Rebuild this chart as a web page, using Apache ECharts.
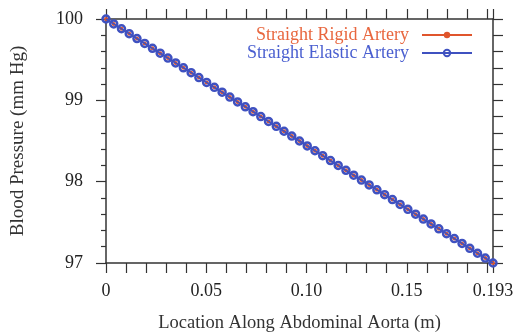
<!DOCTYPE html>
<html>
<head>
<meta charset="utf-8">
<script src="https://cdn.jsdelivr.net/npm/echarts@6/dist/echarts.min.js"></script>
<style>
  html, body { margin: 0; padding: 0; background: #fff; }
  #chart { width: 520px; height: 335px; }
</style>
</head>
<body>
<div id="chart"></div>
<script>
// Sample positions along the abdominal aorta (m)
const locations = [
  0.00000, 0.00386, 0.00772, 0.01158, 0.01544, 0.01930, 0.02316, 0.02702, 0.03088, 0.03474,
  0.03860, 0.04246, 0.04632, 0.05018, 0.05404, 0.05790, 0.06176, 0.06562, 0.06948, 0.07334,
  0.07720, 0.08106, 0.08492, 0.08878, 0.09264, 0.09650, 0.10036, 0.10422, 0.10808, 0.11194,
  0.11580, 0.11966, 0.12352, 0.12738, 0.13124, 0.13510, 0.13896, 0.14282, 0.14668, 0.15054,
  0.15440, 0.15826, 0.16212, 0.16598, 0.16984, 0.17370, 0.17756, 0.18142, 0.18528, 0.18914,
  0.19300
];

// Blood pressure along the rigid artery (mm Hg)
const rigidPressure = [
  100.00, 99.94, 99.88, 99.82, 99.76, 99.70, 99.64, 99.58, 99.52, 99.46,
  99.40, 99.34, 99.28, 99.22, 99.16, 99.10, 99.04, 98.98, 98.92, 98.86,
  98.80, 98.74, 98.68, 98.62, 98.56, 98.50, 98.44, 98.38, 98.32, 98.26,
  98.20, 98.14, 98.08, 98.02, 97.96, 97.90, 97.84, 97.78, 97.72, 97.66,
  97.60, 97.54, 97.48, 97.42, 97.36, 97.30, 97.24, 97.18, 97.12, 97.06,
  97.00
];

// Blood pressure along the elastic artery (mm Hg)
const elasticPressure = [
  100.00, 99.94, 99.88, 99.82, 99.76, 99.70, 99.64, 99.58, 99.52, 99.46,
  99.40, 99.34, 99.28, 99.22, 99.16, 99.10, 99.04, 98.98, 98.92, 98.86,
  98.80, 98.74, 98.68, 98.62, 98.56, 98.50, 98.44, 98.38, 98.32, 98.26,
  98.20, 98.14, 98.08, 98.02, 97.96, 97.90, 97.84, 97.78, 97.72, 97.66,
  97.60, 97.54, 97.48, 97.42, 97.36, 97.30, 97.24, 97.18, 97.12, 97.06,
  97.00
];

// Labelled x ticks
const xTickLabels = ['0', '0.05', '0.10', '0.15', '0.193'];
const seriesNames = ['Straight Rigid Artery', 'Straight Elastic Artery'];

const FONT = '"Liberation Serif", "DejaVu Serif", serif';
const INK = '#333';
const ORANGE = '#e0552c';
const BLUE = '#3f51c0';

const pairs = (xs, ys) => xs.map((x, i) => [x, ys[i]]);

function xLabel(v) {
  for (const t of xTickLabels) {
    if (Math.abs(parseFloat(t) - v) < 1e-6) return t;
  }
  return '';
}

// Frame lines stay on the grid edges instead of jumping to zero
const axisLine = { show: true, onZero: false, lineStyle: { color: INK, width: 1.5 } };
const tickStyle = { color: INK, width: 1.2 };

const chart = echarts.init(document.getElementById('chart'), null, { renderer: 'canvas' });
chart.setOption({
  backgroundColor: '#fff',
  animation: false,
  textStyle: { fontFamily: FONT },
  grid: { left: 106, right: 27, top: 19, bottom: 72, containLabel: false, outerBoundsMode: 'none' },
  legend: {
    orient: 'vertical',
    align: 'right',
    right: 42,
    top: 21,
    itemWidth: 50,
    itemHeight: 8,
    itemGap: 0,
    textStyle: { fontFamily: FONT, fontSize: 18, padding: [0, 8, 0, 0] },
    data: [
      { name: seriesNames[0], textStyle: { color: '#e8673f' } },
      { name: seriesNames[1], textStyle: { color: '#4a5fd0' } }
    ]
  },
  xAxis: [
    {
      type: 'value', position: 'bottom', min: 0, max: 0.193, interval: 0.01,
      axisLine: axisLine,
      axisTick: { show: true, inside: false, length: 10, lineStyle: tickStyle },
      axisLabel: {
        show: true, showMaxLabel: true, showMinLabel: true, margin: 19,
        color: '#222', fontFamily: FONT, fontSize: 18, formatter: xLabel
      },
      splitLine: { show: false },
      name: 'Location Along Abdominal Aorta (m)', nameLocation: 'middle', nameGap: 51,
      nameTextStyle: { color: '#333', fontFamily: FONT, fontSize: 18.5 }
    },
    {
      type: 'value', position: 'top', min: 0, max: 0.193, interval: 0.01,
      axisLine: axisLine,
      axisTick: { show: true, inside: false, length: 10, lineStyle: tickStyle },
      axisLabel: { show: false },
      splitLine: { show: false }
    }
  ],
  yAxis: [
    {
      type: 'value', position: 'left', min: 97, max: 100, interval: 1,
      axisLine: axisLine,
      axisTick: { show: true, inside: false, length: 10, lineStyle: tickStyle },
      minorTick: { show: true, splitNumber: 5, length: 5, lineStyle: tickStyle },
      axisLabel: { color: '#222', fontFamily: FONT, fontSize: 18, margin: 23 },
      splitLine: { show: false },
      minorSplitLine: { show: false },
      name: 'Blood Pressure (mm Hg)', nameLocation: 'middle', nameGap: 78,
      nameTextStyle: { color: '#333', fontFamily: FONT, fontSize: 19 }
    },
    {
      type: 'value', position: 'right', min: 97, max: 100, interval: 0.2,
      axisLine: axisLine,
      axisTick: { show: true, inside: false, length: 10, lineStyle: tickStyle },
      axisLabel: { show: false },
      splitLine: { show: false }
    }
  ],
  series: [
    {
      name: seriesNames[0], type: 'line', xAxisIndex: 0, yAxisIndex: 0, z: 2,
      data: pairs(locations, rigidPressure),
      symbol: 'circle', symbolSize: 4, showAllSymbol: true,
      lineStyle: { color: ORANGE, width: 1.5 },
      itemStyle: { color: ORANGE }
    },
    {
      name: seriesNames[1], type: 'line', xAxisIndex: 0, yAxisIndex: 0, z: 3,
      data: pairs(locations, elasticPressure),
      symbol: 'circle', symbolSize: 7, showAllSymbol: true,
      lineStyle: { color: BLUE, width: 1.5 },
      itemStyle: { color: 'rgba(255,255,255,0)', borderColor: BLUE, borderWidth: 2.5 }
    }
  ]
});
</script>
</body>
</html>
